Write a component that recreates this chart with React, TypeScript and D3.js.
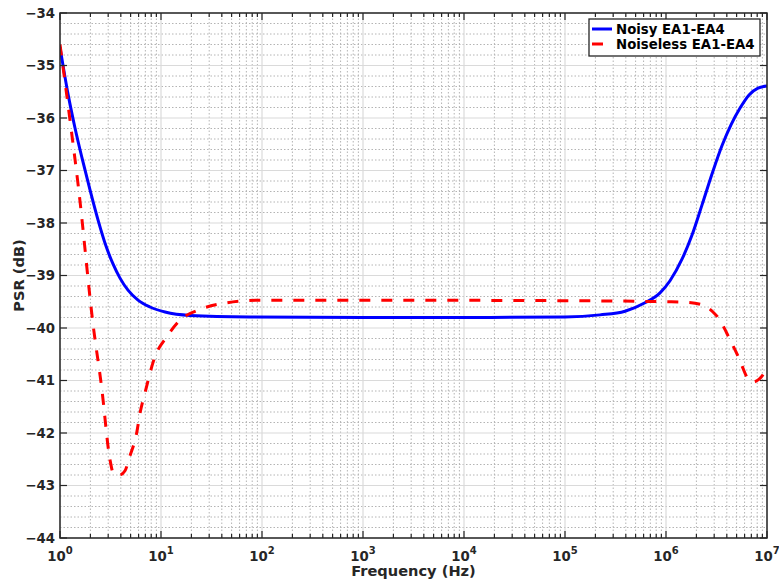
import React, { useEffect, useRef } from 'react';
import * as d3 from 'd3';

// Noisy EA1-EA4 (blue, solid)
const noisyFreq = [1, 1.2, 1.408, 1.651, 1.982, 2.378, 2.854, 3.348, 3.927, 4.713, 5.92, 7.78, 10.96, 19.37, 76.1, 1e3, 1e4, 1e5, 2.221e5, 3.93e5, 6.19e5, 8.73e5, 1.096e6, 1.44e6, 1.81e6, 2.27e6, 2.92e6, 3.58e6, 4.4e6, 5.41e6, 6.64e6, 8.15e6, 1e7];
const noisyPsr = [-34.65, -35.54, -36.19, -36.76, -37.37, -37.94, -38.44, -38.78, -39.05, -39.28, -39.47, -39.6, -39.695, -39.76, -39.79, -39.8, -39.8, -39.79, -39.75, -39.68, -39.52, -39.33, -39.1, -38.69, -38.23, -37.66, -37.01, -36.53, -36.13, -35.81, -35.56, -35.43, -35.39];

// Noiseless EA1-EA4 (red, dashed)
const noiselessFreq = [1, 1.256, 1.52, 2.14, 2.58, 3.12, 3.4, 3.9, 4.4, 4.9, 5.74, 6.2, 6.93, 8.7, 11.4, 15.4, 23.4, 41.4, 95, 1e3, 1e5, 1e6, 1.6e6, 2.2e6, 2.9e6, 3.5e6, 4e6, 4.5e6, 5e6, 5.6e6, 6.3e6, 7.2e6, 8.3e6, 1e7];
const noiselessPsr = [-34.6, -36.04, -37.31, -39.98, -41.12, -42.5, -42.78, -42.8, -42.72, -42.45, -42.0, -41.62, -41.24, -40.55, -40.17, -39.85, -39.66, -39.53, -39.47, -39.47, -39.48, -39.5, -39.51, -39.55, -39.69, -39.88, -40.1, -40.3, -40.48, -40.7, -40.93, -41.03, -40.98, -40.78];

const xDecades = [0, 1, 2, 3, 4, 5, 6, 7];
const yTicks = [-44, -43, -42, -41, -40, -39, -38, -37, -36, -35, -34];
const seriesNames = ['Noisy EA1-EA4', 'Noiseless EA1-EA4'];

const W = 779;
const H = 584;
const m = { left: 60, right: 12, top: 13, bottom: 46 };
const axisColor = '#262626';
const font = '"DejaVu Sans", sans-serif';

const App = () => {
  const svgRef = useRef<SVGSVGElement>(null);

  useEffect(() => {
    const svg = d3.select(svgRef.current);
    svg.selectAll('*').remove();

    const x = d3.scaleLog().domain([1, 1e7]).range([m.left, W - m.right]);
    const y = d3.scaleLinear().domain([-44, -34]).range([H - m.bottom, m.top]);
    const [x0, x1] = x.range();
    const [y0, y1] = y.range();

    // minor grid positions
    const xMinor: number[] = [];
    xDecades.slice(0, -1).forEach(d => {
      for (let k = 2; k <= 9; k++) xMinor.push(k * Math.pow(10, d));
    });
    const yMinor: number[] = [];
    for (let v = -44; v < -34; v += 1) {
      for (let k = 1; k <= 4; k++) yMinor.push(v + k * 0.2);
    }

    const grid = svg.append('g');
    grid.selectAll('.xminor').data(xMinor).enter().append('line')
      .attr('x1', d => x(d)).attr('x2', d => x(d))
      .attr('y1', y0).attr('y2', y1)
      .attr('stroke', '#b4b4b4').attr('stroke-width', 1).attr('stroke-dasharray', '1.5,2');
    grid.selectAll('.yminor').data(yMinor).enter().append('line')
      .attr('x1', x0).attr('x2', x1)
      .attr('y1', d => y(d)).attr('y2', d => y(d))
      .attr('stroke', '#b4b4b4').attr('stroke-width', 1).attr('stroke-dasharray', '1.5,2');
    grid.selectAll('.xmajor').data(xDecades).enter().append('line')
      .attr('x1', d => x(Math.pow(10, d))).attr('x2', d => x(Math.pow(10, d)))
      .attr('y1', y0).attr('y2', y1)
      .attr('stroke', '#dadada').attr('stroke-width', 1.2);
    grid.selectAll('.ymajor').data(yTicks).enter().append('line')
      .attr('x1', x0).attr('x2', x1)
      .attr('y1', d => y(d)).attr('y2', d => y(d))
      .attr('stroke', '#dadada').attr('stroke-width', 1.2);

    svg.append('clipPath').attr('id', 'plot-clip')
      .append('rect').attr('x', x0).attr('y', y1).attr('width', x1 - x0).attr('height', y0 - y1);

    const line = d3.line<[number, number]>()
      .x(d => x(d[0]))
      .y(d => y(d[1]))
      .curve(d3.curveMonotoneX);

    const plot = svg.append('g').attr('clip-path', 'url(#plot-clip)');
    plot.append('path')
      .datum(noisyFreq.map((f, i) => [f, noisyPsr[i]] as [number, number]))
      .attr('fill', 'none').attr('stroke', '#0000ff').attr('stroke-width', 3)
      .attr('d', line);
    plot.append('path')
      .datum(noiselessFreq.map((f, i) => [f, noiselessPsr[i]] as [number, number]))
      .attr('fill', 'none').attr('stroke', '#ff0000').attr('stroke-width', 3)
      .attr('stroke-dasharray', '11,11')
      .attr('d', line);

    // ticks (inward, all four sides)
    const ticks = svg.append('g').attr('stroke', axisColor).attr('stroke-width', 1.2);
    xDecades.forEach(d => {
      const px = x(Math.pow(10, d));
      ticks.append('line').attr('x1', px).attr('x2', px).attr('y1', y0).attr('y2', y0 - 7);
      ticks.append('line').attr('x1', px).attr('x2', px).attr('y1', y1).attr('y2', y1 + 7);
    });
    xMinor.forEach(f => {
      const px = x(f);
      ticks.append('line').attr('x1', px).attr('x2', px).attr('y1', y0).attr('y2', y0 - 4);
      ticks.append('line').attr('x1', px).attr('x2', px).attr('y1', y1).attr('y2', y1 + 4);
    });
    yTicks.forEach(v => {
      const py = y(v);
      ticks.append('line').attr('x1', x0).attr('x2', x0 + 7).attr('y1', py).attr('y2', py);
      ticks.append('line').attr('x1', x1).attr('x2', x1 - 7).attr('y1', py).attr('y2', py);
    });

    // axes box
    svg.append('rect')
      .attr('x', x0).attr('y', y1).attr('width', x1 - x0).attr('height', y0 - y1)
      .attr('fill', 'none').attr('stroke', axisColor).attr('stroke-width', 1.5);

    // y tick labels (MATLAB uses a true minus sign)
    svg.append('g').selectAll('text').data(yTicks).enter().append('text')
      .attr('x', x0 - 5).attr('y', d => y(d)).attr('dy', '0.36em')
      .attr('text-anchor', 'end')
      .attr('font-family', font).attr('font-weight', 'bold').attr('font-size', 13.3)
      .attr('fill', axisColor)
      .text(d => '\u2212' + Math.abs(d));

    // x tick labels 10^n
    const xl = svg.append('g').selectAll('text').data(xDecades).enter().append('text')
      .attr('x', d => x(Math.pow(10, d))).attr('y', y0 + 23)
      .attr('text-anchor', 'middle')
      .attr('font-family', font).attr('font-weight', 'bold').attr('font-size', 13.3)
      .attr('fill', axisColor);
    xl.append('tspan').text('10');
    xl.append('tspan').attr('dy', -7).attr('font-size', 10).text(d => String(d));

    // axis labels
    svg.append('text')
      .attr('x', (x0 + x1) / 2).attr('y', 576)
      .attr('text-anchor', 'middle')
      .attr('font-family', font).attr('font-weight', 'bold').attr('font-size', 14.6)
      .attr('fill', axisColor)
      .text('Frequency (Hz)');
    svg.append('text')
      .attr('transform', `translate(24,${(y0 + y1) / 2}) rotate(-90)`)
      .attr('text-anchor', 'middle')
      .attr('font-family', font).attr('font-weight', 'bold').attr('font-size', 14.6)
      .attr('fill', axisColor)
      .text('PSR (dB)');

    // legend
    const lg = svg.append('g');
    lg.append('rect')
      .attr('x', 589).attr('y', 19).attr('width', 171).attr('height', 37)
      .attr('fill', '#ffffff').attr('stroke', axisColor).attr('stroke-width', 1.3);
    const legendColors = ['#0000ff', '#ff0000'];
    seriesNames.forEach((name, i) => {
      const ly = 29 + i * 15;
      lg.append('line')
        .attr('x1', 592).attr('x2', 612).attr('y1', ly).attr('y2', ly)
        .attr('stroke', legendColors[i]).attr('stroke-width', 3)
        .attr('stroke-dasharray', i === 1 ? '11,11' : null);
      lg.append('text')
        .attr('x', 616).attr('y', ly).attr('dy', '0.36em')
        .attr('font-family', font).attr('font-weight', 'bold').attr('font-size', 13.3)
        .attr('fill', '#000000')
        .text(name);
    });
  }, []);

  return (
    <svg
      ref={svgRef}
      width={W}
      height={H}
      style={{ position: 'absolute', left: 0, top: 0, background: '#ffffff' }}
    />
  );
};

export default App;
